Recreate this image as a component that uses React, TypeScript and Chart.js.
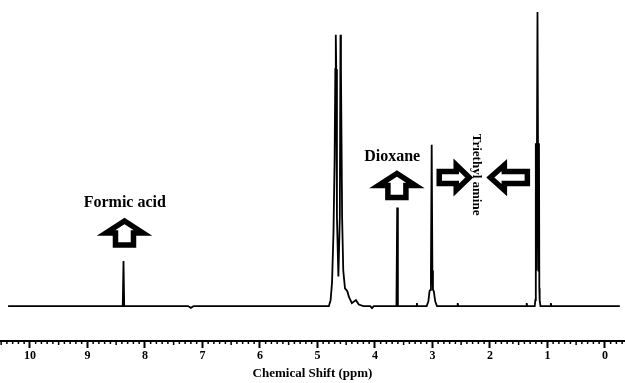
import React, { useEffect, useRef } from "react";
import { Chart, registerables } from "chart.js";

Chart.register(...registerables);

// Spectrum trace (chemical shift in ppm, relative intensity)
const shiftPpm = [
  10.38, 8.385, 8.372, 8.36, 7.25, 7.2, 7.15,
  4.8, 4.77, 4.745, 4.72, 4.7, 4.688, 4.68, 4.672, 4.66, 4.635, 4.61, 4.598, 4.59, 4.582, 4.57, 4.55, 4.52, 4.48, 4.45, 4.4, 4.33, 4.28, 4.2,
  4.08, 4.05, 4.02,
  3.625, 3.612, 3.6,
  3.28, 3.27, 3.26,
  3.1, 3.07, 3.05, 3.035, 3.025, 3.012, 3.0, 2.99, 2.975, 2.95, 2.92,
  2.57, 2.56, 2.55,
  1.37, 1.36, 1.35,
  1.22, 1.21, 1.204, 1.198, 1.19, 1.172, 1.155, 1.146, 1.14, 1.134, 1.12,
  0.95, 0.94, 0.93,
  -0.26,
];
const intensity = [
  0, 0, 15.2, 0, 0, -0.6, 0,
  0, 2, 8, 25, 50, 80, 91.6, 80, 30, 10, 30, 91.6, 80, 60, 30, 12, 6, 5, 3, 1, 2, 0.5, 0,
  0, -0.7, 0,
  0, 33.3, 0,
  0, 1, 0,
  0, 1.5, 5, 5.5, 12, 54.5, 12, 5.5, 5, 1.5, 0,
  0, 1, 0,
  0, 1, 0,
  0, 2, 6, 55, 12, 99.3, 12, 55, 6, 2, 0,
  0, 1, 0,
  0,
];

// Axis ticks
const tickValues = [10, 9, 8, 7, 6, 5, 4, 3, 2, 1, 0];
const axisTitle = "Chemical Shift (ppm)";

// Annotations (text)
const labelTexts = ["Formic acid", "Dioxane", "Triethyl amine"];
const labelPpm = [8.35, 3.7, 2.24];
const labelLevel = [35, 50.5, 44.4];
const labelRotation = [0, 0, 90];
const labelSize = [16, 16, 13];

// Annotations (block arrows)
const arrowDirection = ["up", "up", "right", "left"];
const arrowPpm = [8.355, 3.617, 2.62, 1.67];
const arrowLevel = [24.7, 40.7, 43.4, 43.4];

const arrowShapes: Record<string, { L: number; HW: number; HL: number; SW: number; angle: number }> = {
  up: { L: 24, HW: 37, HL: 12, SW: 18, angle: -Math.PI / 2 },
  right: { L: 30, HW: 25, HL: 13, SW: 12, angle: 0 },
  left: { L: 37, HW: 25, HL: 14, SW: 12, angle: Math.PI },
};

const annotationPlugin = {
  id: "nmrAnnotations",
  afterDraw(chart: any) {
    const ctx = chart.ctx as CanvasRenderingContext2D;
    const xs = chart.scales.x;
    const ys = chart.scales.y;
    ctx.save();
    arrowDirection.forEach((dir, i) => {
      const s = arrowShapes[dir];
      const cx = xs.getPixelForValue(arrowPpm[i]);
      const cy = ys.getPixelForValue(arrowLevel[i]);
      ctx.save();
      ctx.translate(cx, cy);
      ctx.rotate(s.angle);
      const h = s.L / 2;
      ctx.beginPath();
      ctx.moveTo(h, 0);
      ctx.lineTo(h - s.HL, -s.HW / 2);
      ctx.lineTo(h - s.HL, -s.SW / 2);
      ctx.lineTo(-h, -s.SW / 2);
      ctx.lineTo(-h, s.SW / 2);
      ctx.lineTo(h - s.HL, s.SW / 2);
      ctx.lineTo(h - s.HL, s.HW / 2);
      ctx.closePath();
      ctx.fillStyle = "#fff";
      ctx.fill();
      ctx.lineWidth = 5.5;
      ctx.lineJoin = "miter";
      ctx.strokeStyle = "#000";
      ctx.stroke();
      ctx.restore();
    });
    ctx.fillStyle = "#000";
    ctx.textAlign = "center";
    ctx.textBaseline = "middle";
    labelTexts.forEach((t, i) => {
      ctx.font = `bold ${labelSize[i]}px 'Liberation Serif', serif`;
      const x = xs.getPixelForValue(labelPpm[i]);
      const y = ys.getPixelForValue(labelLevel[i]);
      ctx.save();
      ctx.translate(x, y);
      ctx.rotate((labelRotation[i] * Math.PI) / 180);
      ctx.fillText(t, 0, 0);
      ctx.restore();
    });
    ctx.restore();
  },
};

export default function App() {
  const ref = useRef<HTMLCanvasElement | null>(null);
  useEffect(() => {
    document.body.style.margin = "0";
    const canvas = ref.current!;
    const chart = new Chart(canvas, {
      type: "line",
      data: {
        datasets: [
          {
            data: shiftPpm.map((x, i) => ({ x, y: intensity[i] })),
            borderColor: "#000",
            borderWidth: 1.8,
            pointRadius: 0,
            tension: 0,
            fill: false,
          },
        ],
      },
      options: {
        responsive: false,
        animation: false,
        devicePixelRatio: 1,
        layout: { padding: { top: 10, left: 0, right: 0, bottom: 0 } },
        plugins: { legend: { display: false }, tooltip: { enabled: false } },
        scales: {
          x: {
            type: "linear",
            reverse: true,
            min: -0.35,
            max: 10.52,
            afterBuildTicks: (scale: any) => {
              scale.ticks = tickValues.map((v) => ({ value: v }));
            },
            ticks: {
              includeBounds: false,
              color: "#000",
              padding: 1,
              maxRotation: 0,
              font: { family: "'Liberation Serif', serif", size: 12, weight: "bold" },
              callback: (v: any) => String(v),
            },
            grid: {
              drawOnChartArea: false,
              drawTicks: true,
              tickLength: 7,
              tickWidth: 2,
              color: "#000",
            },
            border: { display: true, color: "#000", width: 2 },
            title: {
              display: true,
              text: axisTitle,
              color: "#000",
              font: { family: "'Liberation Serif', serif", size: 13, weight: "bold" },
              padding: { top: 1, bottom: 2 },
            },
          },
          y: {
            display: false,
            min: -11.8,
            max: 100,
          },
        },
      },
      plugins: [
        annotationPlugin,
        {
          id: "minorTicks",
          afterDraw(c: any) {
            const xs = c.scales.x;
            const ctx = c.ctx as CanvasRenderingContext2D;
            const yb = c.chartArea.bottom;
            ctx.save();
            ctx.strokeStyle = "#000";
            ctx.lineWidth = 1.5;
            for (let k = -3; k <= 105; k++) {
              if (k % 10 === 0) continue;
              const x = xs.getPixelForValue(k / 10);
              ctx.beginPath();
              ctx.moveTo(x, yb);
              ctx.lineTo(x, yb + (k % 5 === 0 ? 4 : 3));
              ctx.stroke();
            }
            ctx.restore();
          },
        },
      ],
    } as any);
    return () => chart.destroy();
  }, []);
  return (
    <div style={{ position: "absolute", left: 0, top: 0, width: 625, height: 383 }}>
      <canvas ref={ref} width={625} height={383} />
    </div>
  );
}
